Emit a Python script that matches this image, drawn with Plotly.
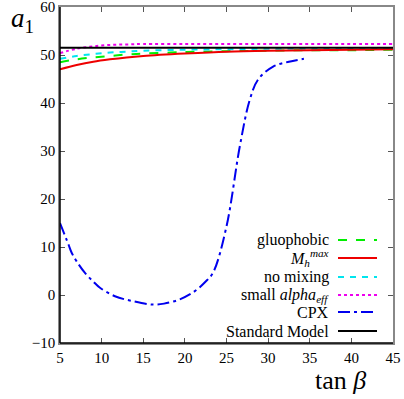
import plotly.graph_objects as go

tanb = [5, 7, 9, 11, 13, 15, 20, 25, 30, 35, 40, 45]
sm = [51.5] * len(tanb)
small_alpha = [50.4, 51.3, 51.8, 52.1, 52.2, 52.3, 52.3, 52.3, 52.3, 52.3, 52.3, 52.3]
no_mixing = [49.2, 49.8, 50.2, 50.5, 50.7, 50.9, 51.1, 51.2, 51.3, 51.3, 51.3, 51.3]
glu = [48.5, 49.1, 49.5, 49.8, 50.1, 50.3, 50.6, 50.8, 50.9, 51.0, 51.0, 51.1]
mhmax = [47.0, 47.9, 48.6, 49.1, 49.5, 49.8, 50.3, 50.7, 50.9, 51.0, 51.1, 51.2]

cpx_x = [5, 6, 6.4, 7, 8, 9, 9.8, 11.6, 13.8, 16.2, 17.5, 19.4, 21.2, 22.5, 23.4, 25.0,
         26.6, 27.8, 28.8, 30.6, 32.5, 34.3]
cpx_y = [15.0, 10.6, 8.8, 7.0, 4.6, 2.8, 1.5, -0.25, -1.3, -2.0, -1.8, -0.9, 0.8, 2.8, 4.7, 14.3,
         31.0, 40.7, 44.9, 47.6, 48.6, 49.2]

xticks = [5, 10, 15, 20, 25, 30, 35, 40, 45]
yticks = [-10, 0, 10, 20, 30, 40, 50, 60]
ylabels = ["−10", "0", "10", "20", "30", "40", "50", "60"]

FONT = "Liberation Serif"

fig = go.Figure()
series = [
    (glu, "#00ee00", "dash"),
    (no_mixing, "#00e5ee", "6px,6px"),
    (small_alpha, "#ee00ee", "dot"),
    (mhmax, "#ee0000", "solid"),
    (sm, "black", "solid"),
]
for y, c, d in series:
    fig.add_trace(go.Scatter(x=tanb, y=y, mode="lines",
                             line=dict(color=c, dash=d, width=2, shape="spline"), showlegend=False))
fig.add_trace(go.Scatter(x=cpx_x, y=cpx_y, mode="lines",
                         line=dict(color="#0000ee", dash="12px,4px,3px,4px", width=2, shape="spline"),
                         showlegend=False))

# legend drawn by hand: text right-aligned, line sample on the right
leg = [
    ("gluophobic", "#00ee00", "dash"),
    ("<i>M</i><sub><i>h</i></sub><sup><i>max</i></sup>", "#ee0000", "solid"),
    ("no mixing", "#00e5ee", "6px,6px"),
    ("small <i>alpha</i><sub><i>eff</i></sub>", "#ee00ee", "dot"),
    ("CPX", "#0000ee", "12px,4px,3px,4px"),
    ("Standard Model", "black", "solid"),
]
W, H = 404, 399
L, R, T, B = 60, 11, 7, 56
pw, ph = W - L - R, H - T - B
ys = [240, 258, 277, 295, 312, 331]
for (txt, c, d), yp in zip(leg, ys):
    yy = 1 - (yp - T) / ph
    fig.add_annotation(x=(331 - L) / pw, y=yy, xref="paper", yref="paper", text=txt, showarrow=False,
                       xanchor="right", yanchor="middle", font=dict(family=FONT, size=16, color="black"))
    fig.add_shape(type="line", xref="paper", yref="paper", x0=(338 - L) / pw, x1=(377 - L) / pw, y0=yy, y1=yy,
                  line=dict(color=c, dash=d, width=2))

fig.add_annotation(x=(22 - L) / pw, y=1 - (20 - T) / ph, xref="paper", yref="paper", text="<i>a</i><sub>1</sub>",
                   showarrow=False, xanchor="center", yanchor="middle", font=dict(family=FONT, size=27, color="black"))
fig.add_annotation(x=(340 - L) / pw, y=1 - (380 - T) / ph, xref="paper", yref="paper", text="tan <i>β</i>",
                   showarrow=False, xanchor="center", yanchor="middle", font=dict(family=FONT, size=26, color="black"))

# left/bottom axis lines darker than the top/right frame
fig.add_shape(type="line", xref="paper", yref="paper", x0=0, x1=0, y0=0, y1=1, line=dict(color="black", width=1.5))
fig.add_shape(type="line", xref="paper", yref="paper", x0=0, x1=1, y0=0, y1=0, line=dict(color="black", width=1.5))

tick_font = dict(family=FONT, size=15, color="black")
fig.update_layout(
    width=W, height=H, margin=dict(l=L, r=R, t=T, b=B),
    plot_bgcolor="white", paper_bgcolor="white",
    xaxis=dict(range=[5, 45], tickvals=xticks, ticks="inside", ticklen=5, tickcolor="#555", mirror="ticks",
               showline=True, linecolor="#888", linewidth=1.5, showgrid=False, zeroline=False,
               tickfont=tick_font, automargin=False, ticklabeloverflow="allow"),
    yaxis=dict(range=[-10, 60], tickvals=yticks, ticktext=ylabels, ticks="inside", ticklen=5, tickcolor="#555",
               mirror="ticks", showline=True, linecolor="#888", linewidth=1.5, showgrid=False, zeroline=False,
               tickfont=tick_font, automargin=False, ticklabeloverflow="allow"),
)
fig.write_html("out.html", config={"displayModeBar": False},
               post_script="document.body.style.margin='0';")
